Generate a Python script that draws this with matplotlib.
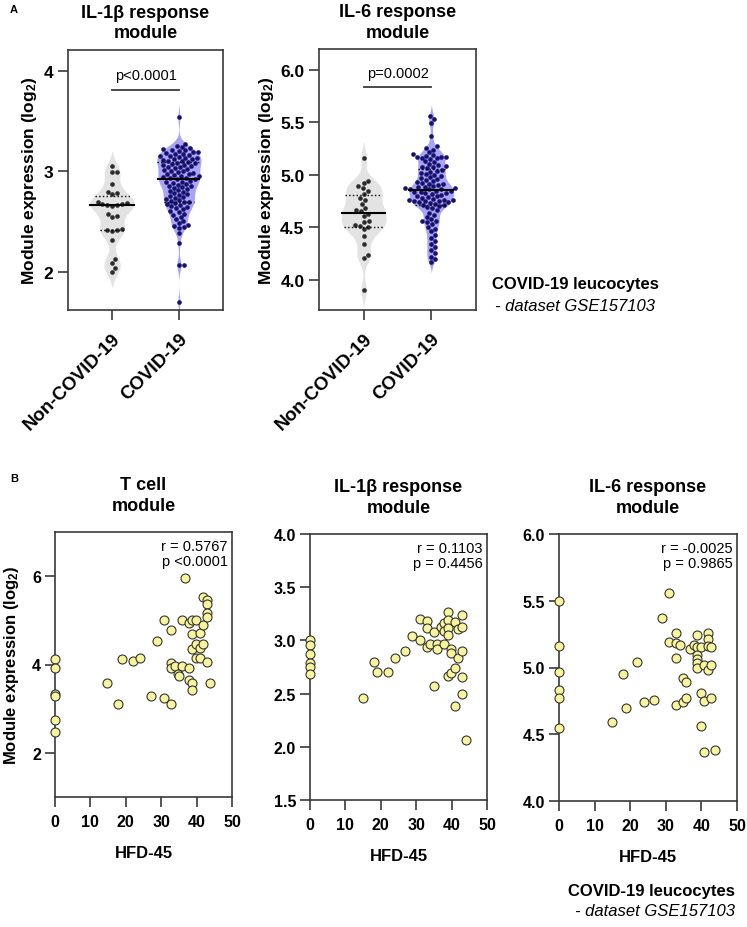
import matplotlib
matplotlib.use('Agg')
import matplotlib.pyplot as plt
import numpy as np

plt.rcParams['font.family'] = ['Liberation Sans', 'DejaVu Sans']
plt.rcParams['mathtext.fontset'] = 'custom'
plt.rcParams['mathtext.rm'] = 'Liberation Sans'
plt.rcParams['mathtext.bf'] = 'Liberation Sans:bold'
plt.rcParams['mathtext.it'] = 'Liberation Sans:italic'

FIG_W, FIG_H = 747, 928

# ---- panel A: violin data (log2 module expression) ----
groups = ['Non-COVID-19', 'COVID-19']

il1b_non = [3.05, 2.99, 2.99, 2.88, 2.80, 2.79, 2.78, 2.70, 2.69, 2.68, 2.68, 2.67,
            2.67, 2.66, 2.58, 2.56, 2.55, 2.43, 2.42, 2.42, 2.41, 2.32, 2.13, 2.09,
            2.04, 2.00]
il1b_covid = [3.54, 3.27, 3.25, 3.24, 3.23, 3.22, 3.21, 3.21, 3.20, 3.19, 3.19, 3.18,
              3.17, 3.17, 3.16, 3.15, 3.15, 3.14, 3.13, 3.13, 3.12, 3.12, 3.11, 3.10,
              3.10, 3.09, 3.08, 3.08, 3.07, 3.06, 3.06, 3.05, 3.04, 3.04, 3.03, 3.02,
              3.01, 3.00, 3.00, 2.99, 2.98, 2.97, 2.97, 2.96, 2.95, 2.95, 2.94, 2.93,
              2.93, 2.92, 2.92, 2.91, 2.90, 2.90, 2.89, 2.88, 2.87, 2.86, 2.86, 2.85,
              2.84, 2.83, 2.82, 2.81, 2.80, 2.79, 2.78, 2.77, 2.76, 2.75, 2.74, 2.73,
              2.72, 2.71, 2.70, 2.70, 2.69, 2.68, 2.67, 2.66, 2.65, 2.64, 2.63, 2.61,
              2.60, 2.58, 2.57, 2.55, 2.53, 2.51, 2.49, 2.47, 2.46, 2.45, 2.44, 2.39,
              2.29, 2.07, 2.07, 1.70]

il6_non = [5.16, 4.94, 4.92, 4.89, 4.87, 4.85, 4.82, 4.78, 4.76, 4.72, 4.68, 4.66,
           4.65, 4.63, 4.61, 4.56, 4.55, 4.52, 4.51, 4.50, 4.48, 4.42, 4.34, 4.23,
           4.21, 3.90]
il6_covid = [5.56, 5.53, 5.49, 5.37, 5.27, 5.26, 5.24, 5.22, 5.20, 5.19, 5.18, 5.17,
             5.17, 5.17, 5.16, 5.16, 5.15, 5.13, 5.12, 5.10, 5.09, 5.08, 5.07, 5.07,
             5.06, 5.05, 5.04, 5.03, 5.02, 5.01, 5.00, 4.99, 4.98, 4.97, 4.96, 4.95,
             4.94, 4.93, 4.92, 4.91, 4.91, 4.90, 4.89, 4.88, 4.88, 4.87, 4.87, 4.86,
             4.86, 4.86, 4.85, 4.85, 4.84, 4.84, 4.83, 4.83, 4.82, 4.81, 4.80, 4.80,
             4.79, 4.78, 4.77, 4.76, 4.76, 4.76, 4.75, 4.75, 4.75, 4.74, 4.74, 4.73,
             4.72, 4.71, 4.71, 4.70, 4.69, 4.68, 4.66, 4.64, 4.62, 4.60, 4.58, 4.56,
             4.56, 4.55, 4.53, 4.50, 4.48, 4.46, 4.43, 4.40, 4.37, 4.34, 4.31, 4.28,
             4.25, 4.22, 4.20, 4.17]

# ---- panel B: HFD-45 vs module expression ----
hfd_tcell = [0, 0, 0, 0, 0, 0, 14.8, 17.9, 18.9, 21.9, 24.0, 27.0, 28.9, 30.8, 30.8,
             32.9, 32.9, 32.9, 32.9, 33.8, 34.8, 34.9, 35.8, 35.9, 36.8, 37.9, 37.9,
             37.9, 38.8, 38.8, 38.8, 38.8, 38.8, 39.8, 39.8, 39.8, 40.9, 40.9, 40.9,
             41.8, 41.8, 41.8, 42.9, 42.9, 42.9, 42.9, 42.9, 43.9]
tcell = [4.12, 3.93, 3.34, 3.29, 2.75, 2.47, 3.57, 3.10, 4.12, 4.09, 4.15, 3.28, 4.54,
         5.01, 3.25, 4.77, 4.03, 3.91, 3.11, 3.97, 3.79, 3.73, 5.01, 3.96, 5.96, 3.91,
         4.94, 3.64, 5.01, 4.70, 4.34, 3.57, 3.42, 5.01, 4.46, 4.15, 4.37, 4.15, 4.72,
         4.89, 5.53, 4.46, 5.45, 5.37, 5.16, 5.07, 4.06, 3.57]

hfd_il1b = [0, 0, 0, 0, 0, 0, 15.0, 18.0, 18.9, 21.9, 23.9, 26.8, 28.9, 31.0, 31.0,
            33.0, 33.0, 33.0, 33.9, 34.9, 34.9, 36.0, 36.0, 36.9, 37.9, 37.9, 37.9,
            39.0, 39.0, 39.0, 39.0, 39.0, 39.9, 39.9, 39.9, 41.0, 41.0, 41.0, 41.9,
            41.9, 42.9, 42.9, 42.9, 42.9, 42.9, 44.0]
il1b = [3.00, 2.96, 2.87, 2.79, 2.75, 2.68, 2.46, 2.80, 2.70, 2.70, 2.83, 2.90, 3.04,
        3.20, 3.00, 3.18, 3.12, 2.94, 2.97, 3.08, 2.57, 2.97, 2.92, 3.13, 2.97, 3.16,
        3.09, 3.27, 3.19, 3.12, 3.05, 2.67, 2.92, 2.88, 2.69, 3.17, 2.74, 2.38, 3.11,
        2.83, 3.24, 3.13, 2.90, 2.66, 2.50, 2.06]

hfd_il6 = [0, 0, 0, 0, 0, 0, 15.0, 17.9, 18.9, 22.0, 23.9, 26.8, 28.9, 30.9, 30.9,
           32.8, 32.8, 32.8, 32.8, 33.9, 34.8, 34.8, 35.8, 35.8, 36.9, 37.8, 38.7,
           38.7, 38.7, 38.7, 38.7, 38.7, 39.8, 39.8, 39.8, 40.8, 40.8, 40.8, 41.8,
           41.8, 41.8, 41.8, 42.8, 42.8, 42.8, 43.8]
il6 = [5.50, 5.16, 4.97, 4.83, 4.77, 4.55, 4.59, 4.95, 4.70, 5.04, 4.74, 4.76, 5.37,
       5.56, 5.19, 5.26, 5.18, 5.07, 4.72, 5.17, 4.92, 4.74, 4.89, 4.77, 5.14, 5.17,
       5.15, 5.24, 5.09, 5.06, 5.03, 5.00, 5.15, 4.81, 4.56, 5.02, 4.75, 4.37, 5.26,
       5.21, 5.16, 4.98, 5.15, 5.02, 4.77, 4.38]

SPINE = '#3a3a3a'


def px_axes(x0, y0, x1, y1):
    # axes box from pixel corners (top-left origin)
    return fig.add_axes([x0 / FIG_W, 1 - y1 / FIG_H, (x1 - x0) / FIG_W, (y1 - y0) / FIG_H])


def style(ax, tick_size, pad=3.5):
    for s in ax.spines.values():
        s.set_color(SPINE)
        s.set_linewidth(1.2)
    ax.tick_params(colors=SPINE, width=1.2, length=7, pad=pad, labelsize=tick_size,
                   labelcolor='black')
    for lab in ax.get_xticklabels() + ax.get_yticklabels():
        lab.set_fontweight('bold')


def kde(vals, grid, bw):
    v = np.asarray(vals)[:, None]
    return np.exp(-0.5 * ((grid[None, :] - v) / bw) ** 2).sum(0)


def swarm_offsets(ypix, d):
    xs = np.zeros(len(ypix))
    placed = []
    for i in np.argsort(ypix):
        y = ypix[i]
        near = [(px, py) for px, py in placed if abs(py - y) < d]
        cands = [0.0]
        for px, py in near:
            dx = np.sqrt(d ** 2 - (py - y) ** 2)
            cands += [px + dx, px - dx]
        cands.sort(key=abs)
        for c in cands:
            if all((c - px) ** 2 + (y - py) ** 2 >= d ** 2 - 1e-6 for px, py in near):
                xs[i] = c
                break
        placed.append((xs[i], y))
    return xs


def violin(ax, pos, vals, bw, fill, dot, box_px):
    vals = np.asarray(vals)
    grid = np.linspace(vals.min() - 2.0 * bw, vals.max() + 2.0 * bw, 400)
    d = kde(vals, grid, bw)
    d = d / d.max() * 0.33
    ax.fill_betweenx(grid, pos - d, pos + d, color=fill, lw=0, zorder=1)

    # swarm in pixel space
    x0, x1 = ax.get_xlim()
    y0, y1 = ax.get_ylim()
    sx = box_px[0] / (x1 - x0)
    sy = box_px[1] / (y1 - y0)
    offs = swarm_offsets(vals * sy, 5.0) / sx
    ax.scatter(pos + offs, vals, s=11, color=dot, lw=0, zorder=2)

    for q, ls, lw in [(25, ':', 1.0), (50, '-', 1.5), (75, ':', 1.0)]:
        y = np.percentile(vals, q)
        w = np.interp(y, grid, d)
        ax.plot([pos - w, pos + w], [y, y], color='black', ls=ls, lw=lw, zorder=3)


fig = plt.figure(figsize=(FIG_W / 100, FIG_H / 100), dpi=100)

ylab = r'Module expression (log$_\mathbf{2}$)'

# ---------------- panel A ----------------
panel_a = [
    ((68, 51, 223, 311), il1b_non, il1b_covid, (1.62, 4.21), [2, 3, 4], '%d',
     'IL-1β response\nmodule', 'p<0.0001', 3.81, 3.96, (0.075, 0.06)),
    ((319, 50, 476, 311), il6_non, il6_covid, (3.71, 6.20), [4.0, 4.5, 5.0, 5.5, 6.0], '%.1f',
     'IL-6 response\nmodule', 'p=0.0002', 5.84, 5.97, (0.075, 0.05)),
]
for box, non, cov, ylim, yt, fmt, title, ptxt, bar_y, txt_y, bws in panel_a:
    ax = px_axes(*box)
    ax.set_xlim(-0.66, 1.66)
    ax.set_ylim(*ylim)
    bpx = (box[2] - box[0], box[3] - box[1])
    violin(ax, 0, non, bws[0], '#e3e3e3', '#2b2b2b', bpx)
    violin(ax, 1, cov, bws[1], '#a9a5f3', '#16106e', bpx)
    ax.plot([0, 1], [bar_y, bar_y], color=SPINE, lw=1.3)
    ax.text(0.5, txt_y, ptxt, ha='center', va='center', fontsize=10.5)
    ax.set_yticks(yt)
    ax.set_yticklabels([fmt % v for v in yt])
    ax.set_xticks([0, 1])
    ax.set_xticklabels(groups, rotation=45, ha='right', va='top', rotation_mode='anchor')
    style(ax, 12.5)
    ax.tick_params(axis='x', labelsize=13.5, pad=7)
    ax.set_ylabel(ylab, fontsize=12.5, fontweight='bold', labelpad=3)
    ax.set_title(title, fontsize=13, fontweight='bold', pad=9, linespacing=1.3)

fig.text(10 / FIG_W, 1 - 10 / FIG_H, 'A', fontsize=8, fontweight='bold', va='center')
fig.text(492 / FIG_W, 1 - 285 / FIG_H, 'COVID-19 leucocytes', fontsize=12,
         fontweight='bold', va='center')
fig.text(495 / FIG_W, 1 - 307 / FIG_H, '- dataset GSE157103', fontsize=12,
         style='italic', va='center')

# ---------------- panel B ----------------
panel_b = [
    ((55, 533, 232, 798), hfd_tcell, tcell, (1, 7), [2, 4, 6], '%d',
     'T cell\nmodule', 'r = 0.5767\np <0.0001'),
    ((310, 535, 487, 801), hfd_il1b, il1b, (1.5, 4.0), [1.5, 2.0, 2.5, 3.0, 3.5, 4.0], '%.1f',
     'IL-1β response\nmodule', 'r = 0.1103\np = 0.4456'),
    ((559, 535, 737, 802), hfd_il6, il6, (4.0, 6.0), [4.0, 4.5, 5.0, 5.5, 6.0], '%.1f',
     'IL-6 response\nmodule', 'r = -0.0025\np = 0.9865'),
]
for i, (box, xs, ys, ylim, yt, fmt, title, stat) in enumerate(panel_b):
    ax = px_axes(*box)
    ax.scatter(xs, ys, s=42, facecolor='#f8f59d', edgecolor='#333333', lw=0.8,
               zorder=3, clip_on=False)
    ax.set_xlim(0, 50)
    ax.set_ylim(*ylim)
    ax.set_xticks([0, 10, 20, 30, 40, 50])
    ax.set_yticks(yt)
    ax.set_yticklabels([fmt % v for v in yt])
    style(ax, 11.5, pad=3)
    ax.tick_params(axis='x', pad=5)
    ax.set_xlabel('HFD-45', fontsize=12, fontweight='bold', labelpad=12)
    ax.set_title(title, fontsize=13, fontweight='bold', pad=16, linespacing=1.3)
    ax.text(0.975, 0.975, stat, transform=ax.transAxes, ha='right', va='top',
            fontsize=10.5, linespacing=1.15)
    if i == 0:
        ax.set_ylabel(ylab, fontsize=12, fontweight='bold', labelpad=8)

fig.text(10 / FIG_W, 1 - 479 / FIG_H, 'B', fontsize=8, fontweight='bold', va='center')
fig.text(735 / FIG_W, 1 - 892 / FIG_H, 'COVID-19 leucocytes', fontsize=12,
         fontweight='bold', va='center', ha='right')
fig.text(735 / FIG_W, 1 - 912 / FIG_H, '- dataset GSE157103', fontsize=12,
         style='italic', va='center', ha='right')

fig.savefig('out.png', dpi=100)
